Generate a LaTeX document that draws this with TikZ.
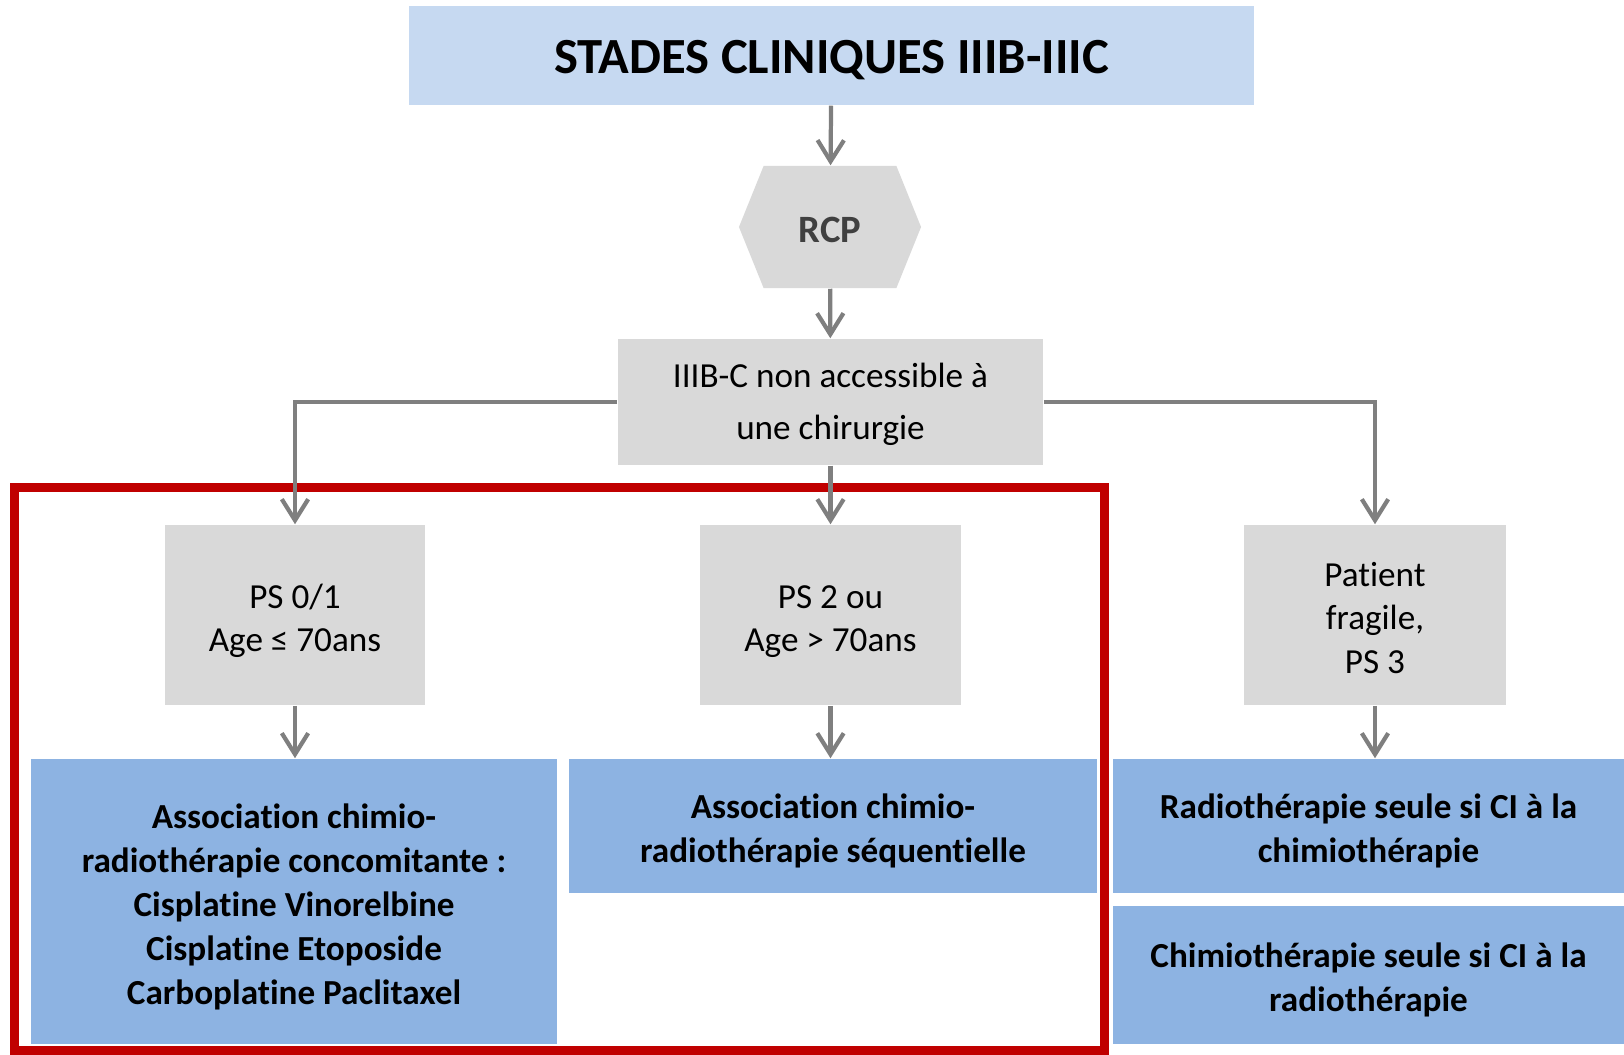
\documentclass[tikz,border=0pt]{standalone}
\usepackage{fontspec}
\setmainfont{Carlito}[RawFeature={-liga;-clig;-calt;-dlig}]
\usetikzlibrary{arrows.meta,shapes.symbols}

\definecolor{titleblue}{HTML}{C6D9F1}
\definecolor{boxgrey}{HTML}{D9D9D9}
\definecolor{treatblue}{HTML}{8DB3E2}
\definecolor{arrowgrey}{HTML}{7F7F7F}
\definecolor{framered}{HTML}{C00000}

% hauteur fixe de la première ligne, pour centrer les lignes comme des boîtes
\newcommand\haut{\rule{0pt}{11pt}}

\tikzset{
  titlebox/.style={fill=titleblue, inner sep=0pt, text height=12pt, text depth=1.8pt,
    font=\bfseries\fontsize{14.4}{17}\selectfont},
  greybox/.style={fill=boxgrey, inner sep=0pt, align=center, text depth=2.5pt,
    font=\fontsize{10}{12.4}\selectfont},
  treatbox/.style={fill=treatblue, inner sep=0pt, align=center, text depth=2.5pt,
    font=\bfseries\fontsize{10}{12.5}\selectfont},
  arr/.style={draw=arrowgrey, line width=1.2pt, -{Straight Barb[length=6pt,width=7.5pt]}},
}

\begin{document}
\begin{tikzpicture}[x=0.01cm,y=-0.01cm]
  \useasboundingbox (0,0) rectangle (1624,1054);
  % cadre rouge autour des deux premières branches
  \draw[framered, line width=2.56pt] (14.5,487) rectangle (1104,1050);

  % en-tête et RCP
  \node[titlebox, minimum width=8.45cm, minimum height=0.99cm] (titre) at (831.5,55.5) {STADES CLINIQUES IIIB-IIIC};
  \node[signal, signal to=west and east, signal pointer angle=136, fill=boxgrey,
        minimum width=1.82cm, minimum height=1.22cm, inner sep=0pt, text height=9pt, text depth=0.4pt,
        font=\bfseries\fontsize{11}{13}\selectfont, text=black!75] (rcp) at (830,227) {RCP};
  \node[greybox, minimum width=4.25cm, minimum height=1.26cm, text depth=4.7pt,
        font=\fontsize{10}{14.8}\selectfont] (nonop) at (830.5,402)
    {\haut IIIB-C non accessible à\\une chirurgie};

  % trois profils de patients
  \node[greybox, minimum width=2.6cm, minimum height=1.8cm] (ps01) at (295,615) {\haut PS 0/1\\Age ≤ 70ans};
  \node[greybox, minimum width=2.61cm, minimum height=1.8cm] (ps2) at (830.5,615) {\haut PS 2 ou\\Age > 70ans};
  \node[greybox, minimum width=2.62cm, minimum height=1.8cm] (fragile) at (1375,615) {\haut Patient\\fragile,\\PS 3};

  % traitements
  \node[treatbox, minimum width=5.26cm, minimum height=2.85cm] (concom) at (294,901.5)
    {\haut Association chimio-\\radiothérapie concomitante :\\Cisplatine Vinorelbine\\Cisplatine Etoposide\\Carboplatine Paclitaxel};
  \node[treatbox, minimum width=5.28cm, minimum height=1.34cm] (sequ) at (833,826)
    {\haut Association chimio-\\radiothérapie séquentielle};
  \node[treatbox, minimum width=5.11cm, minimum height=1.34cm] (radio) at (1368.5,826)
    {\haut Radiothérapie seule si CI à la\\chimiothérapie};
  \node[treatbox, minimum width=5.11cm, minimum height=1.38cm] (chimio) at (1368.5,975)
    {\haut Chimiothérapie seule si CI à la\\radiothérapie};

  % flèches
  \draw[arr] (titre) -- (rcp);
  \draw[arr] (rcp) -- (nonop);
  \draw[arr] (nonop.west) -| (ps01.north);
  \draw[arr] (nonop) -- (ps2);
  \draw[arr] (nonop.east) -| (fragile.north);
  \draw[arr] (ps01) -- (ps01 |- concom.north);
  \draw[arr] (ps2) -- (ps2 |- sequ.north);
  \draw[arr] (fragile) -- (fragile |- radio.north);
\end{tikzpicture}
\end{document}
